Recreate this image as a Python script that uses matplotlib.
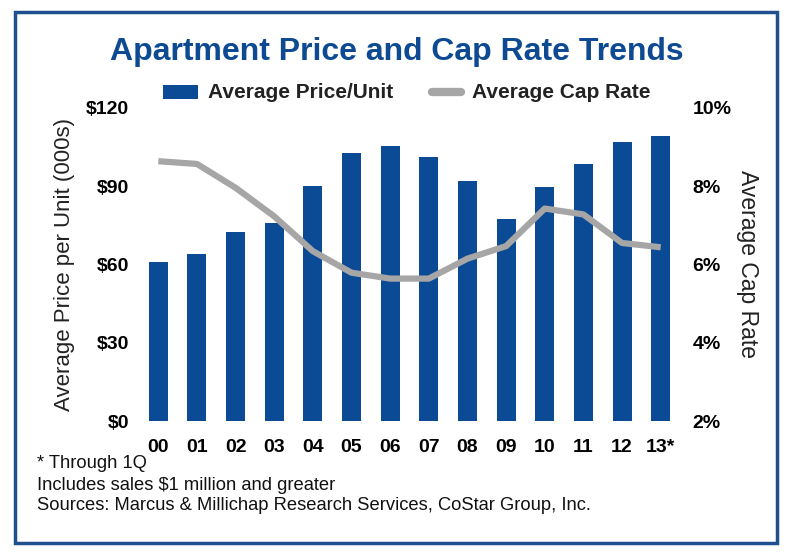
import matplotlib
matplotlib.use("Agg")
import matplotlib.pyplot as plt
from matplotlib.patches import Rectangle
from matplotlib.ticker import FuncFormatter

# data
years = ["00", "01", "02", "03", "04", "05", "06", "07", "08", "09", "10", "11", "12", "13*"]
price = [61.0, 63.9, 72.5, 75.9, 90.2, 102.6, 105.6, 101.3, 92.1, 77.6, 89.8, 98.6, 107.0, 109.3]
cap_rate = [8.64, 8.57, 7.96, 7.23, 6.34, 5.79, 5.64, 5.64, 6.15, 6.47, 7.43, 7.28, 6.55, 6.44]
notes = ["* Through 1Q",
         "Includes sales $1 million and greater",
         "Sources: Marcus & Millichap Research Services, CoStar Group, Inc."]

blue = "#0b4a94"
grey = "#a6a6a6"
plt.rcParams["font.family"] = ["Liberation Sans", "DejaVu Sans"]

fig = plt.figure(figsize=(7.94, 5.55), dpi=100)

# outer frame
fig.patches.append(Rectangle((15 / 794, 12 / 555), 762 / 794, 531 / 555,
                             transform=fig.transFigure, fill=False,
                             edgecolor="#1f4f8e", linewidth=2.5))

ax = fig.add_axes([139 / 794, 134 / 555, 541 / 794, 313 / 555])
x = list(range(len(years)))
ax.bar(x, price, width=0.49, color=blue, zorder=1)
ax.set_xlim(-0.5, len(years) - 0.5)
ax.set_ylim(0, 120)
ax.set_yticks([0, 30, 60, 90, 120])
ax.yaxis.set_major_formatter(FuncFormatter(lambda v, p: "$%d" % v))
ax.set_xticks(x)
ax.set_xticklabels(years)
for s in ax.spines.values():
    s.set_visible(False)
ax.tick_params(axis="both", length=0, labelsize=14)
ax.tick_params(axis="y", pad=7)
ax.tick_params(axis="x", pad=13)
for lab in ax.get_xticklabels() + ax.get_yticklabels():
    lab.set_fontweight("bold")
ax.set_ylabel("Average Price per Unit (000s)", fontsize=16, labelpad=8, color="#222222")

ax2 = ax.twinx()
ax2.plot(x, cap_rate, color=grey, linewidth=4.5, solid_joinstyle="round", solid_capstyle="butt", zorder=3)
ax2.set_ylim(2, 10)
ax2.set_yticks([2, 4, 6, 8, 10])
ax2.yaxis.set_major_formatter(FuncFormatter(lambda v, p: "%d%%" % v))
for s in ax2.spines.values():
    s.set_visible(False)
ax2.tick_params(axis="y", length=0, labelsize=14, pad=9)
for lab in ax2.get_yticklabels():
    lab.set_fontweight("bold")
ax2.set_ylabel("Average Cap Rate", fontsize=16.5, rotation=270, labelpad=20, color="#222222")

# title
fig.text(0.5, 1 - 52 / 555, "Apartment Price and Cap Rate Trends", ha="center", va="center",
         fontsize=23, fontweight="bold", color="#0d4a92")

# legend drawn by hand above the plot
fig.patches.append(Rectangle((163 / 794, 1 - 99 / 555), 35 / 794, 14 / 555,
                             transform=fig.transFigure, facecolor=blue, edgecolor="none"))
fig.text(208 / 794, 1 - 92 / 555, "Average Price/Unit", ha="left", va="center",
         fontsize=15, fontweight="bold", color="#222222")
fig.lines.append(plt.Line2D([432 / 794, 461 / 794], [1 - 92 / 555, 1 - 92 / 555],
                            transform=fig.transFigure, color=grey, linewidth=6,
                            solid_capstyle="round"))
fig.text(472 / 794, 1 - 92 / 555, "Average Cap Rate", ha="left", va="center",
         fontsize=15, fontweight="bold", color="#222222")

# footnotes
for i, t in enumerate(notes):
    fig.text(37 / 794, 1 - (464 + 21 * i) / 555, t, ha="left", va="center",
             fontsize=13.2, color="#111111")

fig.savefig("out.png", dpi=100)
